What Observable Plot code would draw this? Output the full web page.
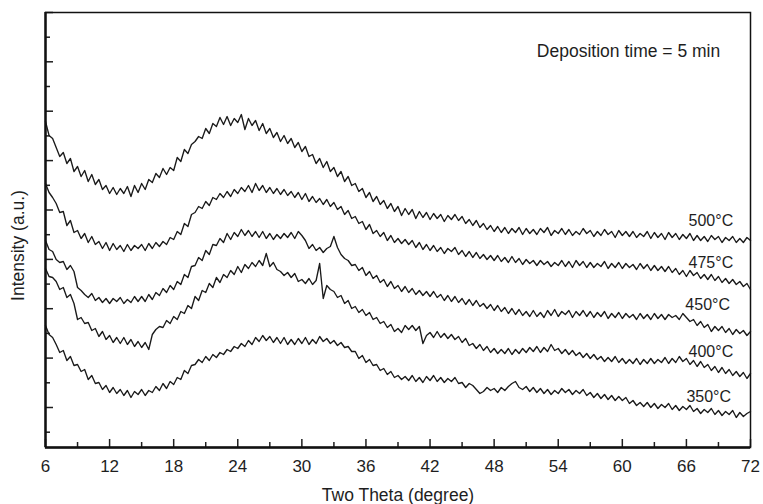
<!DOCTYPE html>
<html><head><meta charset="utf-8">
<script src="https://cdn.jsdelivr.net/npm/d3@7"></script>
<script src="https://cdn.jsdelivr.net/npm/@observablehq/plot@0.6"></script>
<style>
html,body{margin:0;padding:0;background:#fff;}
#chart{width:763px;height:504px;}
</style></head><body><div id="chart"></div>
<script>
// 2-theta scan: starts at 6 deg, step 1/3 deg, 199 points
const thetaStart = 6;
const thetaStep = 1 / 3;
const seriesNames = ["500°C", "475°C", "450°C", "400°C", "350°C"];

const s500 = [
326,312,309, 300,291,295, 284,289,276, 281,271,277, 266,273,263, 268,258,262,
254,260,253, 259,254,261, 251,262,255, 264,258,268, 265,274,270, 279,273,280,
277,290,286, 298,294,303, 306,311,309, 319,314,324, 321,330,323, 331,322,329,
325,333,318, 329,322,327, 317,324,314, 319,310,315, 306,312,304, 309,300,305,
296,301,291, 293,284,289, 280,286,276, 280,271,276, 266,271,262, 264,256,259,
250,255,246, 251,243,247, 239,244,236, 241,232,239, 233,238,229, 236,230,235,
228,234,229, 233,226,232, 228,233,227, 231,224,228, 222,227,220, 224,218,222,
216,221,215, 220,214,219, 215,220,213, 219,214,218, 213,219,215, 220,212,217,
214,219,213, 218,212,216, 213,219,214, 217,211,216, 212,218,213, 216,210,217,
212,216,211, 216,210,214, 211,216,209, 215,210,214, 208,215,210, 214,208,213,
209,214,207, 212,207,211, 206,212,208, 211,205,210, 207,211,205, 209,205,210,
207];

const s475 = [
264,255,250, 244,235,236, 222,227,215, 217,209,214, 205,211,203, 206,199,205,
197,204,198, 202,196,203, 197,202,199, 203,197,204, 199,205,201, 206,203,210,
208,216,213, 224,221,233, 235,241,239, 246,242,250, 248,254,250, 256,251,258,
254,260,256, 262,255,264, 257,262,255, 260,254,259, 253,258,252, 256,250,255,
248,254,246, 251,245,249, 243,248,241, 245,238,241, 233,237,229, 231,224,226,
218,223,214, 217,211,215, 207,212,205, 209,204,208, 203,207,200, 205,198,203,
197,202,196, 200,194,199, 196,200,193, 197,191,196, 190,195,189, 193,188,192,
187,192,186, 190,185,191, 185,189,183, 188,184,187, 182,187,183, 186,181,185,
182,187,181, 186,180,187, 182,186,180, 185,180,184, 181,186,179, 184,180,185,
179,184,180, 183,178,184, 179,183,177, 182,177,181, 176,181,175, 179,173,177,
171,177,172, 175,169,173, 168,173,167, 171,165,169, 164,168,163, 166,161,164,
158];

const s450 = [
207,198,196, 188,185,186, 178,182,176, 160,157,153, 150,154,147, 150,145,149,
144,149,146, 150,144,148, 145,151,146, 151,146,153, 148,155,152, 159,155,162,
158,166,163, 173,170,181, 182,190,187, 197,193,203, 202,209,205, 214,208,215,
211,218,212, 217,211,216, 210,216,209, 214,208,213, 209,214,210, 215,209,216,
212,207,199, 203,197,200, 195,199,201, 211,200,193, 189,187,182, 183,177,180,
172,176,169, 172,165,168, 161,166,159, 162,156,161, 155,159,153, 157,152,156,
151,156,150, 153,147,152, 146,151,145, 149,143,148, 142,147,141, 144,139,143,
137,142,136, 140,134,139, 133,138,132, 136,131,137, 131,135,130, 137,132,138,
131,136,133, 137,130,136, 132,137,131, 136,130,135, 131,136,129, 134,130,135,
129,134,130, 133,128,134, 129,133,128, 134,129,133, 128,133,130, 132,128,134,
130,126,128, 122,126,120, 123,116,121, 117,121,115, 119,113,118, 114,117,112,
116];

const s400 = [
179,171,170, 166,158,160, 150,153,144, 128,130,124, 125,117,119, 111,116,108,
112,105,110, 104,110,103, 108,101,106, 100,105,98, 113,118,121, 120,127,124,
131,128,136, 134,142,139, 151,147,157, 155,164,160, 170,165,173, 170,177,173,
181,175,183, 179,185,181, 187,182,194, 181,185,178, 176,172,175, 170,174,166,
168,164,169, 163,167,184, 149,162,158, 156,150,152, 144,147,139, 141,135,138,
132,135,128, 130,124,126, 120,123,116, 119,115,122, 118,122,117, 121,104,112,
115,110,116, 110,114,109, 113,108,111, 105,109,102, 104,99,103, 97,101,95,
99,94,98, 94,99,93, 98,94,99, 95,100,96, 101,95,100, 96,103,97,
99,94,98, 93,97,92, 95,90,94, 89,93,88, 91,86,90, 86,91,85,
89,84,88, 84,89,83, 88,84,89, 84,88,85, 90,84,89, 85,91,86,
89,83,87, 81,86,80, 83,77,81, 75,80,74, 78,72,76, 71,75,69,
74];

const s350 = [
122,113,110, 103,95,97, 87,91,82, 83,76,78, 68,72,64, 65,58,62,
55,60,54, 58,52,57, 50,56,53, 58,52,57, 55,61,57, 64,59,66,
63,70,68, 77,74,82, 83,88,85, 91,87,93, 90,95,93, 98,96,101,
99,104,101, 107,103,110, 106,112,107, 111,105,110, 104,110,103, 108,103,109,
104,110,103, 108,104,111, 106,109,104, 107,102,105, 100,101,96, 96,89,92,
85,88,82, 83,77,79, 73,76,70, 72,68,71, 67,72,66, 70,65,71,
67,72,66, 70,65,69, 66,70,64, 65,60,64, 62,58,54, 56,60,57,
59,55,60, 57,61,64, 66,60,58, 61,56,60, 55,59,54, 58,53,57,
54,59,55, 58,53,57, 54,58,52, 55,50,54, 49,53,48, 52,47,51,
47,50,44, 47,42,45, 41,45,40, 44,39,43, 40,44,38, 42,37,41,
38,42,36, 39,34,38, 35,39,33, 37,32,36, 33,37,30, 35,31,34,
36];

const xMajorTicks = [6, 12, 18, 24, 30, 36, 42, 48, 54, 60, 66, 72];
const xMinorTicks = [9, 15, 21, 27, 33, 39, 45, 51, 57, 63, 69];
const yMajorTicks = [40, 89.4, 138.8, 188.1, 237.5, 286.9, 336.3, 385.7, 435];
const yMinorTicks = [15.3, 64.7, 114.1, 163.4, 212.8, 262.2, 311.6, 361, 410.3];

const allSeries = [s500, s475, s450, s400, s350];
const rows = [];
allSeries.forEach((vals, si) => {
  vals.forEach((v, i) => rows.push({theta: thetaStart + i * thetaStep, intensity: v, series: seriesNames[si]}));
});

// annotation anchors (data coordinates)
const seriesLabelPos = [
  {text: "500°C", x: 66.2, y: 227},
  {text: "475°C", x: 66.2, y: 185},
  {text: "450°C", x: 65.9, y: 143},
  {text: "400°C", x: 66.2, y: 96},
  {text: "350°C", x: 66.0, y: 51}
];
const yTitlePos = [{text: "Intensity (a.u.)", x: 6, y: 202}];

const FONT = "'Liberation Sans', Arial, Helvetica, sans-serif";
const ink = "#1e1e1e";

const chart = Plot.plot({
  width: 763,
  height: 504,
  marginTop: 12,
  marginRight: 13,
  marginBottom: 57,
  marginLeft: 45,
  style: {fontFamily: FONT, fontSize: "17px", color: ink, background: "#fff", overflow: "visible"},
  x: {domain: [6, 72]},
  y: {domain: [0, 435]},
  marks: [
    Plot.line(rows, {x: "theta", y: "intensity", z: "series", stroke: "#1a1a1a", strokeWidth: 1.35}),
    Plot.axisX(xMajorTicks, {tickSize: -8, tickPadding: 20, fontSize: 17, label: null, strokeWidth: 1.5}),
    Plot.axisX(xMinorTicks, {tickSize: -5, fill: "none", label: null, strokeWidth: 1.5}),
    Plot.axisY(yMajorTicks, {tickSize: -8, fill: "none", label: null, strokeWidth: 1.5}),
    Plot.axisY(yMinorTicks, {tickSize: -5, fill: "none", label: null, strokeWidth: 1.5}),
    Plot.frame({stroke: "#111", strokeWidth: 1.5}),
    Plot.ruleX([6], {stroke: "#111", strokeWidth: 2.4}),
    Plot.ruleY([0], {stroke: "#111", strokeWidth: 2.4}),
    Plot.text(["Two Theta (degree)"], {frameAnchor: "bottom", dy: 53, lineAnchor: "bottom", fontSize: 17.5, fill: ink}),
    Plot.text(yTitlePos, {x: "x", y: "y", text: "text", rotate: -90, textAnchor: "middle", dx: -27, fontSize: 17.5, fill: ink}),
    Plot.text(seriesLabelPos, {x: "x", y: "y", text: "text", textAnchor: "start", fontSize: 16, fill: ink}),
    Plot.text(["Deposition time = 5 min"], {x: 52, y: 396, textAnchor: "start", fontSize: 17.5, fill: ink})
  ]
});
document.getElementById("chart").appendChild(chart);
</script>
</body></html>
